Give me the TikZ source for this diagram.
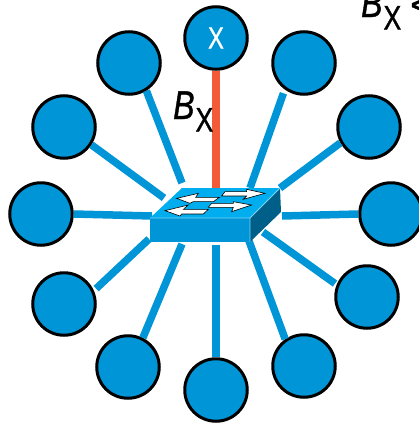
\documentclass[tikz,border=0pt]{standalone}
\usepackage{fontspec}
\setmainfont{Liberation Sans}
\newfontfamily\lblfont[FakeBold=1.2]{Liberation Sans}
\definecolor{hostblue}{HTML}{0095D6}
\definecolor{topblue}{HTML}{00AEEF}
\definecolor{sideblue}{HTML}{005F88}
\definecolor{redlink}{HTML}{F25A38}
\definecolor{edgeblue}{HTML}{7FD4F5}
\newcommand{\narrowX}[1]{\scalebox{0.78}[1]{\fontsize{#1}{#1}\lblfont X}}
\newcommand{\bxlabel}{\scalebox{0.8}[1]{\fontsize{40}{42}\lblfont\itshape B}\kern1pt\raisebox{-12.5pt}{\narrowX{34}}}
\tikzset{
  host/.style={circle,draw=black,line width=3pt,fill=hostblue,minimum size=62.5pt,inner sep=0pt,text=white},
  link/.style={draw=hostblue,line width=7.5pt},
  redline/.style={draw=redlink,line width=8pt},
  flowarrow/.style={fill=white,draw=black,line width=0.6pt},
  lbl/.style={inner sep=0pt,anchor=base west,text=black}
}
\begin{document}
\begin{tikzpicture}[x=1pt,y=-1pt]
\useasboundingbox (0,0) rectangle (419,423);
\clip (0,0) rectangle (419,423);
% switch attachment points
\coordinate (p0) at (216,190);
\coordinate (p1) at (250,188);
\coordinate (p2) at (280,188);
\coordinate (p3) at (282,216);
\coordinate (p4) at (263,232);
\coordinate (p5) at (249,241);
\coordinate (p6) at (216,245);
\coordinate (p7) at (182,244);
\coordinate (p8) at (149,239);
\coordinate (p9) at (152,216);
\coordinate (p10) at (164,198);
\coordinate (p11) at (182,183);
% hosts
\node[host] (x)  at (216,38) {\raisebox{-1pt}{\narrowX{30}}};
\node[host] (h1) at (304,63) {};
\node[host] (h2) at (369,127) {};
\node[host] (h3) at (391,214) {};
\node[host] (h4) at (367,297) {};
\node[host] (h5) at (304,366) {};
\node[host] (h6) at (216,390) {};
\node[host] (h7) at (128,367) {};
\node[host] (h8) at (64,304) {};
\node[host] (h9) at (41,214) {};
\node[host] (h10) at (64,127) {};
\node[host] (h11) at (129,63) {};
% connectors
\draw[redline] (x) -- (p0);
\draw[link,shorten <=4pt] (h1.234) -- (p1);
\draw[link] (h2.209) -- (p2);
\draw[link] (h3.180) -- (p3);
\draw[link,shorten <=2pt] (h4.158) -- (p4);
\draw[link] (h5.125) -- (p5);
\draw[link] (h6.90) -- (p6);
\draw[link] (h7.63) -- (p7);
\draw[link,shorten <=3pt] (h8.24) -- (p8);
\draw[link] (h9.0) -- (p9);
\draw[link] (h10.327) -- (p10);
\draw[link] (h11.302) -- (p11);
% switch body
\fill[topblue] (182,188) -- (280,188) -- (250,218) -- (150,218) -- cycle;
\fill[hostblue] (150,218) -- (250,218) -- (250,242) -- (150,242) -- cycle;
\fill[sideblue] (250,218) -- (280,188) -- (281,212) -- (252,240) -- (250,242) -- cycle;
\draw[edgeblue,line width=0.8pt] (150,218) -- (250,218) -- (280,188) (250,218) -- (250,242);
% arrows on the top face
\begin{scope}[shift={(130,170)},x=0.3333pt,y=-0.3333pt]
\draw[flowarrow] (140,85) -- (205,70) -- (197,82) -- (268,82) -- (250,95) -- (190,95) -- (180,100) -- cycle;
\draw[flowarrow] (405,70) -- (350,58) -- (350,65) -- (285,65) -- (275,78) -- (350,78) -- (340,88) -- cycle;
\draw[flowarrow] (105,122) -- (175,105) -- (160,118) -- (235,118) -- (220,132) -- (155,132) -- (150,138) -- cycle;
\draw[flowarrow] (365,105) -- (310,95) -- (310,100) -- (245,100) -- (235,112) -- (310,112) -- (305,125) -- cycle;
\end{scope}
% labels
\node[lbl] (bx) at (173,119) {\bxlabel};
\node[lbl] (bx2) at (361,17) {\bxlabel\kern9pt\fontsize{36}{38}\lblfont <};
\end{tikzpicture}
\end{document}
